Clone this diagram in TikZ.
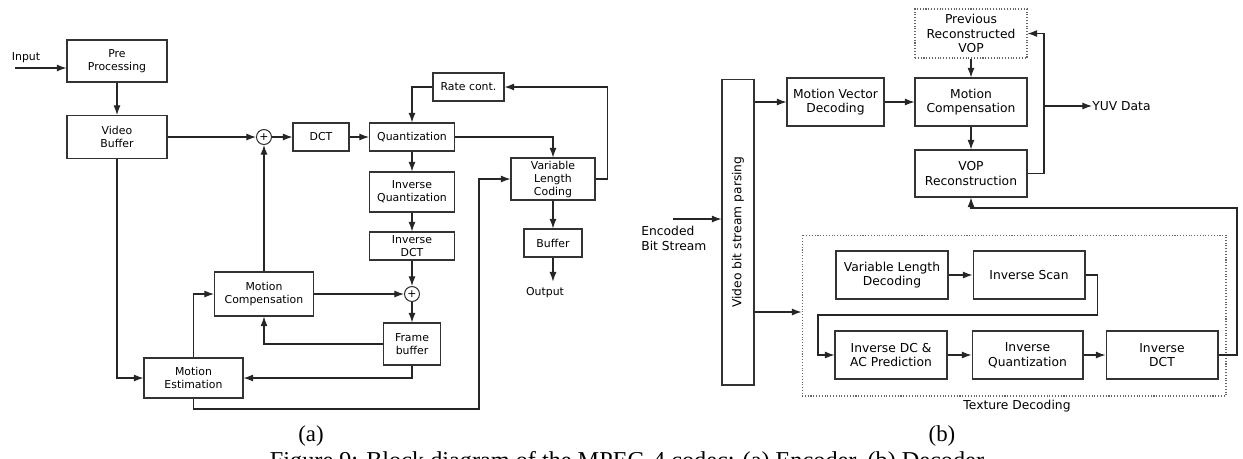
\documentclass[tikz,border=0pt]{standalone}
\usepackage{fontspec}
\setmainfont{Liberation Serif}
\newfontfamily\dejavu{DejaVu Sans}
\usetikzlibrary{arrows.meta}
\tikzset{
  blk/.style={draw=black!80,line width=.6pt,align=center,inner sep=1pt},
  sumnode/.style={draw=black!80,line width=.6pt,circle,inner sep=0pt,minimum size=.3cm},
  dotbox/.style={draw=black!60,densely dotted,line width=.6pt,align=center,inner sep=1pt},
  wire/.style={draw=black!85,line width=.6pt},
}
\begin{document}
\begin{tikzpicture}[x=.02cm,y=-.02cm,>={Latex[length=5.5pt,width=4pt]}]
\useasboundingbox (0,0) rectangle (1243,458);
\begin{scope}[font=\dejavu\fontsize{6.2}{7.4}\selectfont]
\node[blk,minimum width=2cm,minimum height=.84cm] (pre) at (117,61) {Pre\\Processing};
\node[blk,minimum width=2cm,minimum height=.86cm] (vbuf) at (117,137) {Video\\Buffer};
\node[sumnode] (sum1) at (264,137) {+};
\node[blk,minimum width=1.12cm,minimum height=.56cm] (dct) at (321,137) {DCT};
\node[blk,minimum width=1.7cm,minimum height=.56cm] (quant) at (412,137) {Quantization};
\node[blk,minimum width=1.42cm,minimum height=.56cm] (rate) at (468.5,87) {Rate cont.};
\node[blk,minimum width=1.68cm,minimum height=.84cm] (vlc) at (553,179) {Variable\\Length\\Coding};
\node[blk,minimum width=1.7cm,minimum height=.8cm] (iquant) at (412,192) {Inverse\\Quantization};
\node[blk,minimum width=1.7cm,minimum height=.56cm] (idct) at (412,246) {Inverse\\DCT};
\node[sumnode] (sum2) at (412,294) {+};
\node[blk,minimum width=1.98cm,minimum height=.88cm] (mc) at (264,294) {Motion\\Compensation};
\node[blk,minimum width=1.14cm,minimum height=.84cm] (fbuf) at (412,344) {Frame\\buffer};
\node[blk,minimum width=1.98cm,minimum height=.8cm] (me) at (193.5,378) {Motion\\Estimation};
\node[blk,minimum width=1.16cm,minimum height=.56cm] (buf) at (553,243) {Buffer};
\node (inlbl) at (26,58) {Input};
\node (outlbl) at (545,293) {Output};
\coordinate (in) at (15,68);
\coordinate (c1) at (479,409);

\draw[->,wire] (in) -- (in-|pre.west);
\draw[->,wire] (pre) -- (vbuf);
\draw[->,wire] (vbuf) -- (sum1);
\draw[->,wire] (sum1) -- (dct);
\draw[->,wire] (dct) -- (quant);
\draw[->,wire] (rate.west) -| (quant.north);
\draw[->,wire] (quant.east) -| (vlc.north);
\draw[->,wire] (vlc.east) -- ++(12,0) |- (rate.east);
\draw[->,wire] (quant) -- (iquant);
\draw[->,wire] (iquant) -- (idct);
\draw[->,wire] (idct) -- (sum2);
\draw[->,wire] (sum2) -- (fbuf);
\draw[->,wire] (mc) -- (sum2);
\draw[->,wire] (mc) -- (sum1);
\draw[->,wire] (fbuf.west) -| (mc.south);
\draw[->,wire] (fbuf.south) |- (me.east);
\draw[->,wire] (me.north) |- (mc.west);
\draw[->,wire] (vbuf.south) |- (me.west);
\draw[->,wire] (me.south) |- (c1) |- (vlc.west);
\draw[->,wire] (vlc) -- (buf);
\draw[->,wire] (buf.south) -- (buf.south|-outlbl.north);
\end{scope}

\begin{scope}[font=\dejavu\fontsize{7}{8.4}\selectfont]
\node[dotbox,minimum width=2.24cm,minimum height=.98cm] (prv) at (971,33.5) {Previous\\Reconstructed\\VOP};
\node[blk,minimum width=.64cm,minimum height=6.12cm] (vbsp) at (738,232) {};
\node[rotate=90] (vbsplbl) at (vbsp) {Video bit stream parsing};
\node[blk,minimum width=1.94cm,minimum height=.96cm] (mvd) at (835.5,102) {Motion Vector\\Decoding};
\node[blk,minimum width=2.24cm,minimum height=.96cm] (mcd) at (971,102) {Motion\\Compensation};
\node[blk,minimum width=2.24cm,minimum height=.94cm] (vop) at (971,173.5) {VOP\\Reconstruction};
\node[dotbox,minimum width=8.48cm,minimum height=3.22cm] (tex) at (1014,315.5) {};
\node (texlbl) at (1017,406) {Texture Decoding};
\node[blk,minimum width=2.24cm,minimum height=.96cm] (vld) at (892,275) {Variable Length\\Decoding};
\node[blk,minimum width=2.24cm,minimum height=.96cm] (iscan) at (1029,275) {Inverse Scan};
\node[blk,minimum width=2.24cm,minimum height=.96cm] (idc) at (891,355) {Inverse DC \&\\AC Prediction};
\node[blk,minimum width=2.22cm,minimum height=.96cm] (iq) at (1027.5,355) {Inverse\\Quantization};
\node[blk,minimum width=2.24cm,minimum height=.96cm] (idct2) at (1162,355) {Inverse\\DCT};
\node[anchor=north west,align=left,inner sep=0pt] (enclbl) at (641,226) {Encoded\\Bit Stream};
\node[anchor=west,inner sep=0pt] (yuv) at (1092,106) {YUV Data};
\coordinate (enc) at (673,219);
\coordinate (yuvsrc) at (1044,106);
\coordinate (c2) at (818,315);
\coordinate (c3) at (1237,208);
\coordinate (c4) at (754,312);

\draw[->,wire] (enc) -- (enc-|vbsp.west);
\draw[->,wire] (vbsp.east|-mvd.west) -- (mvd.west);
\draw[->,wire] (mvd) -- (mcd);
\draw[->,wire] (prv) -- (mcd);
\draw[->,wire] (mcd) -- (vop);
\draw[->,wire] (vop.east) -| (yuvsrc) |- (prv.east);
\draw[->,wire] (yuvsrc) -- (yuv.west);
\draw[->,wire] (c4) -- (c4-|tex.west);
\draw[->,wire] (vld) -- (iscan);
\draw[->,wire] (iscan.east) -- ++(12,0) |- (c2) |- (idc.west);
\draw[->,wire] (idc) -- (iq);
\draw[->,wire] (iq) -- (idct2);
\draw[->,wire] (idct2.east) -| (c3) -| (vop.south);
\end{scope}

\begin{scope}[font=\fontsize{13}{15}\selectfont]
\node (capa) at (311,436) {(a)};
\node (capb) at (942,436) {(b)};
\node[anchor=base,font=\fontsize{13.8}{16}\selectfont] (figcap) at (627,468) {Figure 9: Block diagram of the MPEG-4 codec: (a) Encoder, (b) Decoder};
\end{scope}
\end{tikzpicture}
\end{document}
